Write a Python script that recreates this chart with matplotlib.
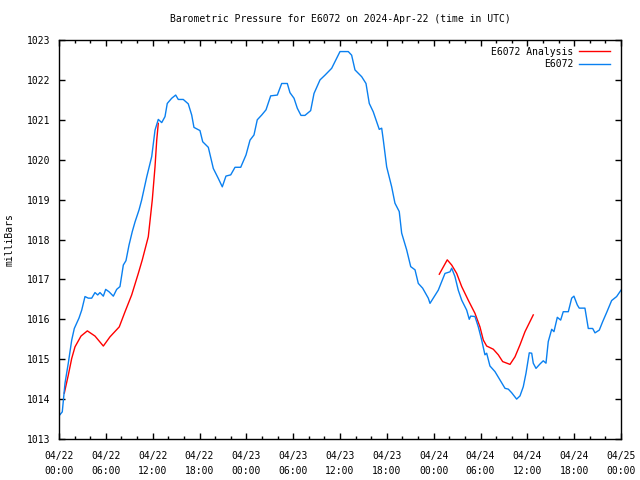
import numpy as np
import matplotlib
matplotlib.use("Agg")
import matplotlib.pyplot as plt
from matplotlib.ticker import MultipleLocator
from datetime import datetime, timedelta

# ================================================================
# DATA (hours since 2024-04-22 00:00 UTC, pressure in mbar)
# ================================================================

station = "E6072"
start = datetime(2024, 4, 22)

obs_hours = [0.0, 0.42, 0.77, 1.19, 1.63, 1.96, 2.56, 2.91, 3.33, 3.75, 4.19, 4.61,
             4.96, 5.25, 5.68, 5.98, 6.41, 6.96, 7.39, 7.81, 8.24, 8.58, 8.97, 9.39,
             9.74, 10.25, 10.59, 11.24, 11.88, 12.30, 12.72, 13.16, 13.58, 13.87, 14.44,
             14.95, 15.28, 15.92, 16.56, 17.00, 17.29, 18.06, 18.41, 19.13, 19.77, 20.41,
             20.92, 21.39, 22.0, 22.55, 23.28, 23.96, 24.47, 24.98, 25.40, 25.97, 26.52,
             27.12, 27.97, 28.53, 29.25, 29.59, 30.11, 30.53, 31.0, 31.51, 32.24, 32.67,
             33.44, 34.08, 34.93, 36.0, 37.06, 37.49, 37.92, 38.78, 39.33, 39.75, 40.26,
             40.70, 41.03, 41.34, 41.55, 41.98, 42.62, 43.04, 43.59, 43.90, 44.54, 45.06,
             45.61, 46.03, 46.59, 47.31, 47.53, 47.95, 48.59, 49.45, 50.09, 50.31, 50.73,
             51.15, 51.59, 52.23, 52.56, 52.74, 53.29, 53.72, 54.15, 54.57, 54.79, 55.21,
             55.85, 56.49, 57.14, 57.56, 57.99, 58.63, 59.06, 59.48, 59.83, 60.25, 60.56,
             60.76, 61.11, 61.62, 62.04, 62.39, 62.68, 63.12, 63.41, 63.84, 64.27, 64.60,
             65.25, 65.68, 65.97, 66.40, 66.65, 67.38, 67.81, 68.37, 68.67, 69.22, 69.65,
             70.16, 70.80, 71.44, 72.0]
obs_mbar = [1013.58, 1013.68, 1014.40, 1014.90, 1015.48, 1015.77, 1016.03, 1016.23,
            1016.57, 1016.53, 1016.53, 1016.67, 1016.61, 1016.67, 1016.58, 1016.75,
            1016.69, 1016.58, 1016.75, 1016.82, 1017.36, 1017.47, 1017.86, 1018.20,
            1018.44, 1018.74, 1018.99, 1019.57, 1020.08, 1020.74, 1021.01, 1020.93,
            1021.08, 1021.41, 1021.54, 1021.62, 1021.51, 1021.51, 1021.40, 1021.12,
            1020.81, 1020.73, 1020.45, 1020.31, 1019.78, 1019.53, 1019.32, 1019.59,
            1019.62, 1019.81, 1019.81, 1020.12, 1020.49, 1020.62, 1021.00, 1021.12,
            1021.25, 1021.60, 1021.62, 1021.91, 1021.91, 1021.68, 1021.54, 1021.29,
            1021.11, 1021.11, 1021.23, 1021.66, 1022.00, 1022.12, 1022.29, 1022.71,
            1022.71, 1022.62, 1022.25, 1022.08, 1021.91, 1021.41, 1021.20, 1020.95,
            1020.76, 1020.79, 1020.49, 1019.82, 1019.32, 1018.91, 1018.70, 1018.16,
            1017.74, 1017.32, 1017.24, 1016.90, 1016.78, 1016.53, 1016.40, 1016.53,
            1016.73, 1017.15, 1017.19, 1017.28, 1017.07, 1016.73, 1016.48, 1016.23,
            1016.00, 1016.08, 1016.07, 1015.81, 1015.48, 1015.11, 1015.15, 1014.83,
            1014.69, 1014.48, 1014.27, 1014.25, 1014.16, 1014.00, 1014.08, 1014.31,
            1014.65, 1015.16, 1015.15, 1014.90, 1014.77, 1014.88, 1014.96, 1014.90,
            1015.44, 1015.75, 1015.69, 1016.05, 1015.98, 1016.19, 1016.19, 1016.53,
            1016.58, 1016.36, 1016.28, 1016.28, 1015.77, 1015.77, 1015.66, 1015.73,
            1015.94, 1016.17, 1016.47, 1016.57, 1016.73]

# analysis comes in two separate runs
ana1_hours = [0.68, 1.19, 1.63, 2.05, 2.82, 3.63, 4.61, 5.68, 6.53, 7.72, 8.46, 9.31,
              10.16, 10.67, 11.44, 11.95, 12.30, 12.52, 12.72]
ana1_mbar = [1014.15, 1014.60, 1015.02, 1015.31, 1015.58, 1015.71, 1015.58, 1015.33,
             1015.56, 1015.81, 1016.19, 1016.61, 1017.15, 1017.49, 1018.07, 1018.99,
             1019.82, 1020.49, 1020.91]
ana2_hours = [48.72, 49.74, 50.31, 50.95, 51.59, 52.43, 53.29, 53.93, 54.36, 54.79,
              55.64, 56.28, 56.84, 57.78, 58.42, 59.06, 59.70, 60.76]
ana2_mbar = [1017.13, 1017.49, 1017.36, 1017.15, 1016.82, 1016.48, 1016.15, 1015.81,
             1015.48, 1015.33, 1015.25, 1015.11, 1014.94, 1014.87, 1015.06, 1015.36,
             1015.69, 1016.11]

# ================================================================
# PLOT
# ================================================================

plt.rcParams['font.family'] = 'DejaVu Sans Mono'
plt.rcParams['font.size'] = 7

fig = plt.figure(figsize=(6.4, 4.8), dpi=100)
ax = fig.add_axes([59 / 640, 41 / 480, 562 / 640, 399 / 480])

ax.plot(ana1_hours, ana1_mbar, color='#ff0000', lw=1.0, label=f'{station} Analysis')
ax.plot(ana2_hours, ana2_mbar, color='#ff0000', lw=1.0)
ax.plot(obs_hours, obs_mbar, color='#0a80f0', lw=1.0, label=station)

ax.set_xlim(0, 72)
ax.set_ylim(1013, 1023)

xt = np.arange(0, 73, 6)
ax.set_xticks(xt)
ax.set_xticklabels([(start + timedelta(hours=int(h))).strftime('%m/%d\n%H:%M') for h in xt],
                   linespacing=1.5)
ax.xaxis.set_minor_locator(MultipleLocator(2))
ax.yaxis.set_major_locator(MultipleLocator(1))

ax.tick_params(which='both', direction='in', top=True, right=True, width=1, colors='black')
ax.tick_params(which='major', length=4)
ax.tick_params(which='minor', length=2.5)
ax.tick_params(axis='x', pad=9)
ax.tick_params(axis='y', pad=6)
for s in ax.spines.values():
    s.set_linewidth(1)

fig.text(340 / 640, 1 - 19 / 480,
         f'Barometric Pressure for {station} on 2024-Apr-22 (time in UTC)',
         ha='center', va='center')
fig.text(10 / 640, 0.5, 'milliBars', rotation=90, ha='center', va='center')

ax.legend(loc='upper right', bbox_to_anchor=(0.984, 0.988), frameon=False,
          markerfirst=False, handlelength=3.2, handletextpad=0.6, labelspacing=0.25,
          borderaxespad=0, borderpad=0.2)

plt.savefig('out.png', dpi=100)
